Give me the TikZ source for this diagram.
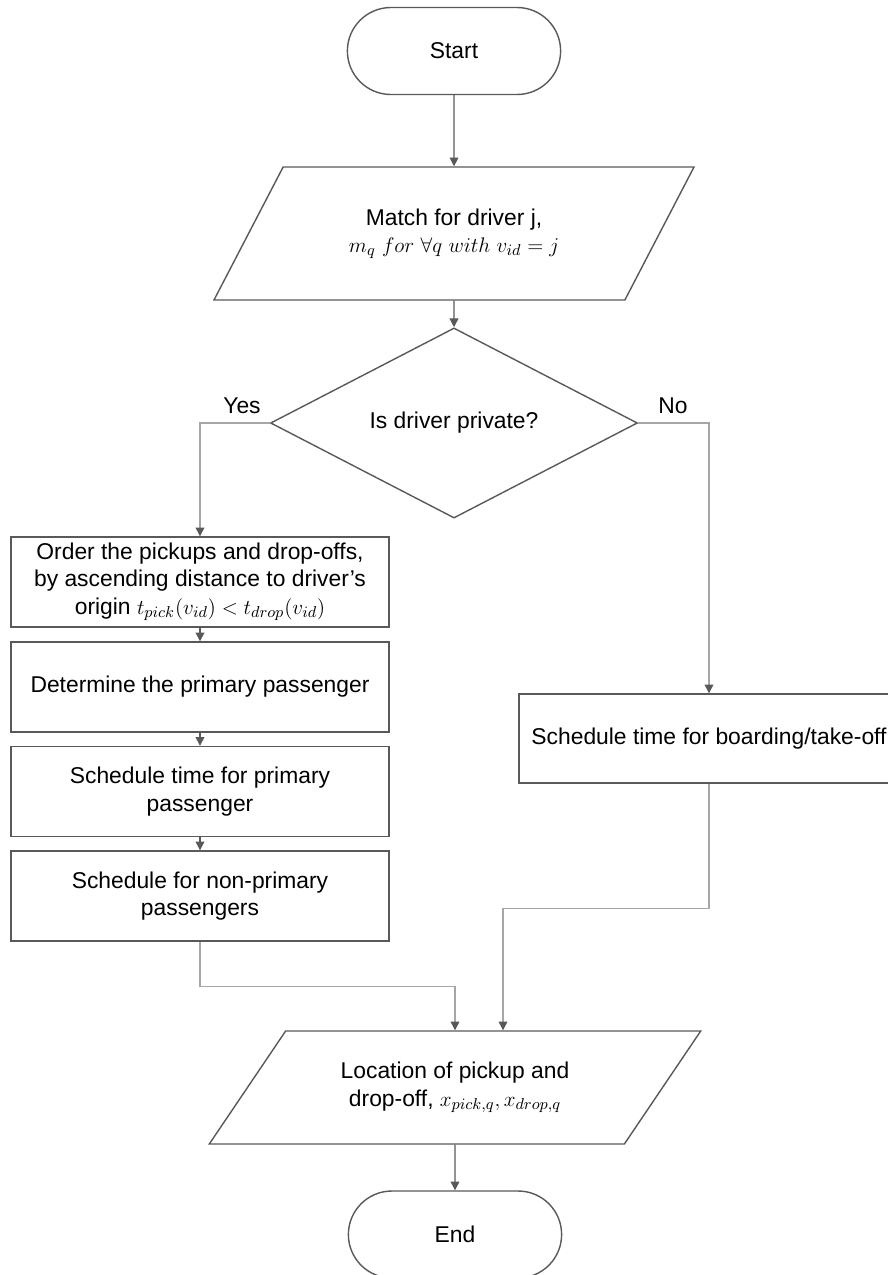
\documentclass[tikz,border=0pt]{standalone}
\usepackage{fontspec}
\setmainfont{Liberation Sans}
\usepackage{amsmath,amssymb}
\usetikzlibrary{arrows.meta,shapes.geometric,shapes.misc}
\definecolor{lineDark}{HTML}{595959}
\definecolor{lineLight}{HTML}{A6A6A6}

\begin{document}
\begin{tikzpicture}[x=0.02cm,y=-0.02cm,
   >={Triangle[length=5pt,width=5pt]},
   every node/.style={font=\fontsize{13}{15.5}\selectfont,align=center},
   term/.style={draw=lineDark,line width=0.8pt,rounded rectangle,minimum width=4.5cm,minimum height=1.74cm},
   io/.style={draw=lineDark,line width=0.8pt,trapezium,trapezium stretches=true},
   decide/.style={draw=lineDark,line width=0.8pt,diamond,minimum width=7.34cm,minimum height=3.38cm,inner sep=0pt},
   proc/.style={draw=lineDark,line width=0.8pt,rectangle,minimum width=7.56cm,minimum height=1.8cm,inner sep=1pt},
   flow/.style={draw=lineDark,line width=0.7pt,->},
   branch/.style={draw=lineLight,line width=0.7pt,-{Triangle[length=5pt,width=5pt,color=lineDark]}}]
   \useasboundingbox (0,0) rectangle (887,1275);

   \node[term] (start) at (454,51) {Start};
   \node[io,trapezium left angle=54,trapezium right angle=126,minimum width=9.62cm,minimum height=2.66cm] (match) at (454,233.5)
      {Match for driver j,\\ $m_q\ for\ \forall q\ with\ v_{id} = j$};
   \node[decide] (priv) at (454,423) {Is driver private?};
   \node (yes) at (242,406) {Yes};
   \node (no) at (673,406) {No};
   \node[proc] (order) at (200,582)
      {Order the pickups and drop-offs,\\ by ascending distance to driver’s\\ origin $t_{pick}(v_{id}) < t_{drop}(v_{id})$};
   \node[proc] (prim) at (200,687) {Determine the primary passenger};
   \node[proc] (schedp) at (200,791.5) {Schedule time for primary\\ passenger};
   \node[proc] (schednp) at (200,896) {Schedule for non-primary\\ passengers};
   \node[proc,minimum width=7.6cm,minimum height=1.78cm] (board) at (709,738.5) {Schedule time for boarding/take-off};
   \node[io,trapezium left angle=49,trapezium right angle=131,minimum width=9.84cm,minimum height=2.26cm] (loc) at (455,1087.5)
      {Location of pickup and\\ drop-off, $x_{pick,q}, x_{drop,q}$};
   \node[term] (end) at (455,1234.5) {End};

   \draw [flow] (start) -- (match) ;
   \draw [flow] (match) -- (priv) ;
   \draw [branch] (priv.west) -| (order.north) ;
   \draw [branch] (priv.east) -| (board.north) ;
   \draw [flow] (order) -- (prim) ;
   \draw [flow] (prim) -- (schedp) ;
   \draw [flow] (schedp) -- (schednp) ;
   \draw [branch] (schednp.south) -- ++(0,45) -| (loc.north) ;
   \draw [branch] (board.south) -- ++(0,125) -| ([xshift=0.96cm]loc.north) ;
   \draw [flow] (loc) -- (end) ;
\end{tikzpicture}
\end{document}
